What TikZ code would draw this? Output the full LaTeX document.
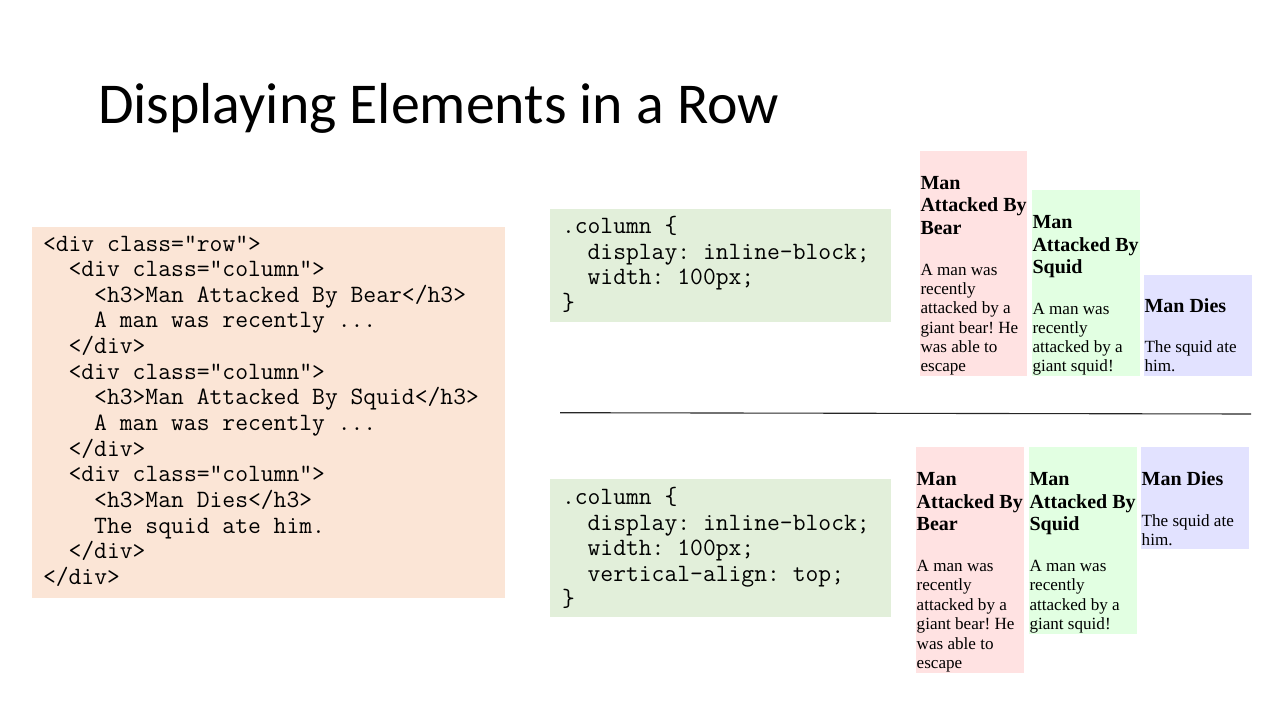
\documentclass[tikz,border=0pt]{standalone}
\usepackage{fontspec}
\setmainfont{Liberation Serif}
\newfontfamily\titlefont{Carlito}

\definecolor{codeorange}{HTML}{FBE5D6}
\definecolor{codegreen}{HTML}{E2EFDA}
\definecolor{colpink}{HTML}{FFE2E2}
\definecolor{colgreen}{HTML}{E2FFE2}
\definecolor{colblue}{HTML}{E2E2FF}

\begin{document}
\frenchspacing
\begin{tikzpicture}[x=1pt,y=-1pt,
  panel/.style={anchor=north west, inner sep=0pt, outer sep=0pt, draw=none},
  txt/.style={anchor=base west, inner sep=0pt, outer sep=0pt},
  code/.style={txt, font=\ttfamily\fontsize{24.9}{25.6}\selectfont},
  head/.style={txt, font=\bfseries\fontsize{20}{22.6}\selectfont},
  body/.style={txt, font=\fontsize{17.1}{19.3}\selectfont},
  rule/.style={draw=black!85, line width=1.1pt}]
\useasboundingbox (0,0) rectangle (1280,720);

% slide title
\node[txt, font=\titlefont\fontsize{57.8}{62}\selectfont] (title) at (98,123.5) {Displaying Elements in a Row};

% HTML source panel
\node[panel, fill=codeorange, minimum width=473pt, minimum height=371pt] (html) at (32,227) {};
\node[code] (h1)  at (43,251)     {<div class="row">};
\node[code] (h2)  at (68.6,276.65) {<div class="column">};
\node[code] (h3)  at (94.2,302.3) {<h3>Man Attacked By Bear</h3>};
\node[code] (h4)  at (94.2,327.95) {A man was recently ...};
\node[code] (h5)  at (68.6,353.6) {</div>};
\node[code] (h6)  at (68.6,379.25) {<div class="column">};
\node[code] (h7)  at (94.2,404.9) {<h3>Man Attacked By Squid</h3>};
\node[code] (h8)  at (94.2,430.55) {A man was recently ...};
\node[code] (h9)  at (68.6,456.2) {</div>};
\node[code] (h10) at (68.6,481.85) {<div class="column">};
\node[code] (h11) at (94.2,507.5) {<h3>Man Dies</h3>};
\node[code] (h12) at (94.2,533.15) {The squid ate him.};
\node[code] (h13) at (68.6,558.8) {</div>};
\node[code] (h14) at (43,584.45)  {</div>};

% first CSS panel
\node[panel, fill=codegreen, minimum width=341pt, minimum height=113pt] (cssA) at (550,209) {};
\node[code] (a1) at (562,233.5)   {.column \{};
\node[code] (a2) at (587.6,259.1) {display: inline-block;};
\node[code] (a3) at (587.6,284.7) {width: 100px;};
\node[code] (a4) at (562,310.3)   {\}};

% second CSS panel
\node[panel, fill=codegreen, minimum width=341pt, minimum height=138pt] (cssB) at (550,479) {};
\node[code] (b1) at (562,504.5)   {.column \{};
\node[code] (b2) at (587.6,530.1) {display: inline-block;};
\node[code] (b3) at (587.6,555.7) {width: 100px;};
\node[code] (b4) at (587.6,581.3) {vertical-align: top;};
\node[code] (b5) at (562,606.9)   {\}};

% rendered columns, baseline aligned
\node[panel, fill=colpink,  minimum width=107pt, minimum height=225pt] (tp) at (920,151) {};
\node[panel, fill=colgreen, minimum width=108pt, minimum height=186pt] (tg) at (1032,190) {};
\node[panel, fill=colblue,  minimum width=108pt, minimum height=101pt] (tb) at (1144,275) {};

\node[head] (tp1) at (920.5,189.3) {Man};
\node[head] (tp2) at (920.5,211.7) {Attacked By};
\node[head] (tp3) at (920.5,234.3) {Bear};
\node[body] (tp4) at (920.5,275.7) {A man was};
\node[body] (tp5) at (920.5,294.6) {recently};
\node[body] (tp6) at (920.5,313.7) {attacked by a};
\node[body] (tp7) at (920.5,333.0) {giant bear! He};
\node[body] (tp8) at (920.5,352.3) {was able to};
\node[body] (tp9) at (920.5,371.2) {escape};

\node[head] (tg1) at (1032.5,228.3) {Man};
\node[head] (tg2) at (1032.5,251.0) {Attacked By};
\node[head] (tg3) at (1032.5,273.3) {Squid};
\node[body] (tg4) at (1032.5,314.3) {A man was};
\node[body] (tg5) at (1032.5,333.5) {recently};
\node[body] (tg6) at (1032.5,352.3) {attacked by a};
\node[body] (tg7) at (1032.5,371.2) {giant squid!};

\node[head] (tb1) at (1144.5,312.0) {Man Dies};
\node[body] (tb2) at (1144.5,352.3) {The squid ate};
\node[body] (tb3) at (1144.5,371.2) {him.};

% divider
\coordinate (ruleL) at (560,412.7);
\coordinate (ruleR) at (1251,414);
\draw[rule] (ruleL) -- (ruleR);

% rendered columns, top aligned
\node[panel, fill=colpink,  minimum width=108pt, minimum height=226pt] (bp) at (916,447) {};
\node[panel, fill=colgreen, minimum width=108pt, minimum height=187pt] (bg) at (1029,447) {};
\node[panel, fill=colblue,  minimum width=108pt, minimum height=102pt] (bb) at (1141,447) {};

\node[head] (bp1) at (916.7,485.0) {Man};
\node[head] (bp2) at (916.7,508.3) {Attacked By};
\node[head] (bp3) at (916.7,530.7) {Bear};
\node[body] (bp4) at (916.7,571.7) {A man was};
\node[body] (bp5) at (916.7,590.9) {recently};
\node[body] (bp6) at (916.7,610.1) {attacked by a};
\node[body] (bp7) at (916.7,629.4) {giant bear! He};
\node[body] (bp8) at (916.7,649.0) {was able to};
\node[body] (bp9) at (916.7,668.6) {escape};

\node[head] (bg1) at (1029.5,485.0) {Man};
\node[head] (bg2) at (1029.5,508.3) {Attacked By};
\node[head] (bg3) at (1029.5,530.7) {Squid};
\node[body] (bg4) at (1029.5,571.7) {A man was};
\node[body] (bg5) at (1029.5,590.9) {recently};
\node[body] (bg6) at (1029.5,610.1) {attacked by a};
\node[body] (bg7) at (1029.5,629.4) {giant squid!};

\node[head] (bb1) at (1141.7,485.0) {Man Dies};
\node[body] (bb2) at (1141.7,526.0) {The squid ate};
\node[body] (bb3) at (1141.7,545.0) {him.};
\end{tikzpicture}
\end{document}
